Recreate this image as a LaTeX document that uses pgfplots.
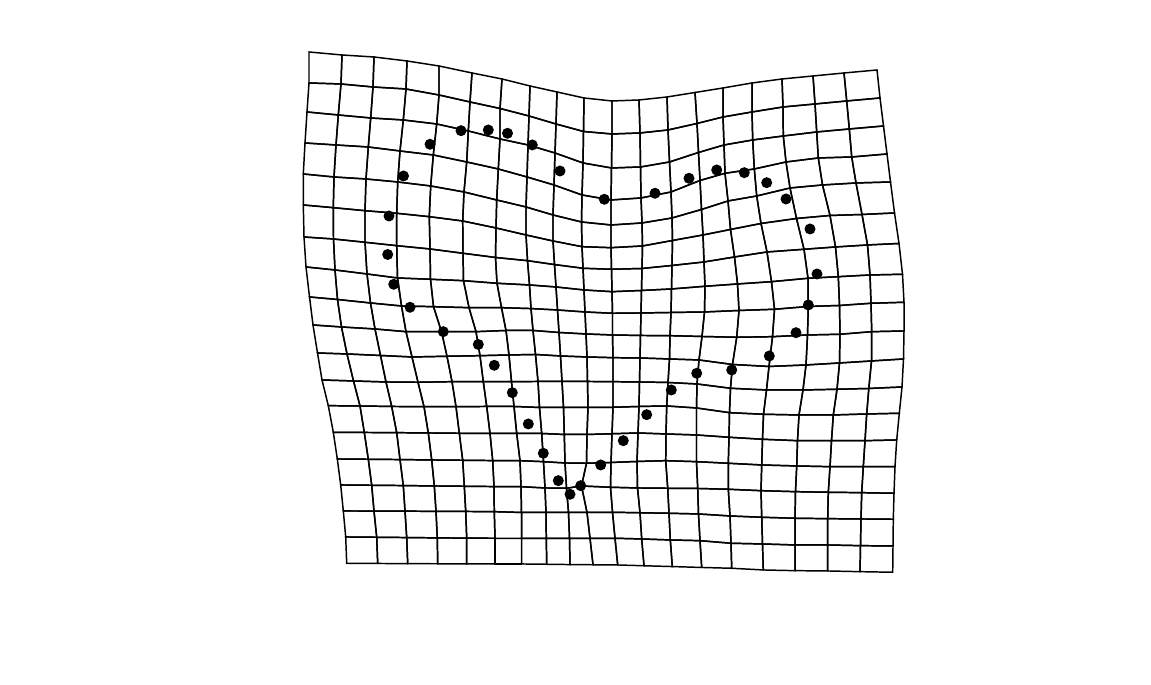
\documentclass[border=0pt]{standalone}
\usepackage{pgfplots}
\pgfplotsset{compat=1.18}
\begin{document}
\begin{tikzpicture}
\begin{axis}[
  view={0}{90},
  width=11.51cm, height=6.85cm, scale only axis,
  xmin=0, xmax=1151, ymin=0, ymax=685, zmin=-1, zmax=1, y dir=reverse,
  axis line style={draw=none}, ticks=none,
  colormap={allblack}{color=(black) color=(black)},
  point meta min=0, point meta max=1,
]
\addplot3[mesh, mesh/rows=19, mesh/cols=20, line width=0.42pt, point meta=0] coordinates {
(309,52,0) (342,55,0) (374,57,0) (407,61,0) (439,66,0) (472,73,0) (502,79,0) (530,86,0) (557,92,0) (584,98,0) (612,101,0) (639,100,0) (667,97,0) (695,92.5,0) (723,88,0) (752,83,0) (782,79,0) (813,76,0) (844,73,0) (877,70,0)
(309,83,0) (341,84,0) (373,87,0) (406,89,0) (439,95,0) (470,102,0) (500,108.5,0) (529,116,0) (556,124,0) (583.5,131.5,0) (612,134,0) (640,133,0) (668,130,0) (697,123.5,0) (723,117,0) (752,112,0) (783,107,0) (815,104,0) (846.7,101,0) (880,98,0)
(307,112,0) (338.3,115,0) (370.7,118,0) (403.3,120,0) (436.7,124,0) (468.3,131,0) (500,139,0) (528,145,0) (555,153,0) (583,163,0) (611.5,168,0) (640.5,167,0) (669.5,162,0) (698.5,152.5,0) (724,145,0) (752.7,140,0) (783.3,136,0) (816.7,132,0) (849.3,129,0) (883.5,126,0)
(305,143,0) (336,145,0) (368.3,147,0) (400,151,0) (433.3,155,0) (466.7,162,0) (498.3,169,0) (527,177,0) (554,185,0) (582,195,0) (611,200,0) (641,198,0) (671,192,0) (700,180.5,0) (725,173.3,0) (754.3,169,0) (786,162,0) (818.3,158,0) (851.7,157,0) (887,154,0)
(303.3,174,0) (334,177,0) (366,179,0) (397.7,182,0) (430.7,186,0) (464,192,0) (496.7,200,0) (526,207,0) (553,215,0) (581.5,222,0) (611,225,0) (642,223,0) (672,218,0) (701.5,209.5,0) (728,201,0) (756.7,196,0) (790,188,0) (822.5,185,0) (856,183,0) (890.5,182,0)
(303.3,205,0) (333.3,207.7,0) (365,210.7,0) (396.7,213.3,0) (429.3,216.7,0) (462.7,221,0) (496,228,0) (526,235,0) (553,241,0) (582,246.7,0) (611,247.7,0) (642.5,246,0) (672.5,240.5,0) (703,235,0) (730.5,229.5,0) (761,223.5,0) (796.5,218.5,0) (830,215.5,0) (862,214.5,0) (894.5,213,0)
(304,237,0) (333.5,239,0) (365,242.3,0) (396.7,245.7,0) (430,249,0) (463,253.3,0) (495.5,257.5,0) (527.5,260.7,0) (554.5,264.6,0) (583,268.3,0) (611.5,269.3,0) (642,268.5,0) (672,265.5,0) (704,262,0) (734.5,257,0) (767,252,0) (804,249.3,0) (835.5,247,0) (867.5,245,0) (899,243.5,0)
(306,267,0) (335,270,0) (367,274,0) (397.5,278,0) (430.5,279.3,0) (463.5,280.7,0) (497,283.3,0) (529.5,285,0) (556,287,0) (584,290,0) (612,291.7,0) (641.5,290.5,0) (671.5,289,0) (705,286.3,0) (737.5,284,0) (771.5,281.7,0) (808,278.3,0) (838.3,276.7,0) (870,275,0) (902.5,274.3,0)
(309.5,297,0) (337.5,299.5,0) (370.5,303,0) (401.5,306,0) (433.5,306.7,0) (469,307.7,0) (501.5,307.7,0) (531,308.6,0) (557.5,310,0) (585,312,0) (612.5,313.3,0) (641,313,0) (671,312.5,0) (704.5,312,0) (739,310.5,0) (774.5,309.3,0) (808.3,306.5,0) (839.5,305.5,0) (871,303.3,0) (904,302.3,0)
(313,325,0) (341.5,327,0) (375,329,0) (406,331.7,0) (441.5,331.7,0) (476,331.7,0) (506,330.5,0) (533,330.5,0) (559,332.5,0) (586,334,0) (612.5,335,0) (640.5,335.5,0) (670,335.7,0) (702,336.5,0) (736.7,337.3,0) (772.5,336.7,0) (807.5,335,0) (840,334.3,0) (871.7,331.7,0) (904,331,0)
(317.5,353,0) (347,354,0) (380.5,355.5,0) (412,357,0) (447,356.3,0) (480,355.7,0) (509,355,0) (535.5,354.5,0) (560.5,356,0) (587,357,0) (613,357.7,0) (640,358,0) (669.5,359,0) (699,360,0) (732.5,364.5,0) (769,366.5,0) (806,365,0) (839.5,363,0) (871.5,361,0) (903.5,359,0)
(322,380,0) (353.5,381,0) (386,382,0) (418,382.3,0) (452,381.7,0) (483.3,381.7,0) (511.5,381.7,0) (538,381.5,0) (562,381.5,0) (587.5,381.5,0) (613,381.7,0) (639.5,382,0) (668,382.5,0) (697,384,0) (730.5,388.3,0) (766.5,390,0) (803,390,0) (837,389.3,0) (868.8,388.5,0) (902,387,0)
(328.3,405.7,0) (360,406,0) (391.7,406.5,0) (424,406.7,0) (456,406.7,0) (486.7,406.5,0) (514,406.5,0) (539.5,407.5,0) (563.5,407.5,0) (588,407.3,0) (613,407.3,0) (639,406.5,0) (666.7,406,0) (696.5,408,0) (729.5,412.7,0) (763.5,414.3,0) (799,415,0) (833.3,415,0) (866.7,414,0) (899.3,413.3,0)
(333.3,432.3,0) (364.3,432.5,0) (396.7,432.7,0) (428.3,433,0) (459.3,433.3,0) (490,433.5,0) (516.7,433.5,0) (541.7,433.5,0) (564.3,434.5,0) (587,434.5,0) (612,433.8,0) (638,433,0) (666,434,0) (696.5,435,0) (729,437.3,0) (762.5,439.3,0) (797.5,440.7,0) (831.5,440.7,0) (865,440.7,0) (896.7,440,0)
(337.3,459,0) (368.3,459.3,0) (400,459.6,0) (431.7,460,0) (462.7,460.3,0) (492.7,460.6,0) (520,460.7,0) (543.5,461.7,0) (565,463,0) (586.5,463.3,0) (611,462.5,0) (637,461.5,0) (665.7,460.7,0) (696.5,461.7,0) (728.3,463.3,0) (761.7,465,0) (796.7,466,0) (830,466.7,0) (863.3,466.7,0) (895,466.7,0)
(340.7,485,0) (371.7,485.3,0) (403.3,485.6,0) (434.3,486,0) (464.3,486.3,0) (494,486.6,0) (521,486.7,0) (545,488,0) (566.5,488.3,0) (581.5,486,0) (610.5,487.3,0) (637.5,488,0) (667.7,488.3,0) (697.7,488.5,0) (728.3,489.3,0) (761,490.7,0) (795.5,491.7,0) (828.3,492.3,0) (861.7,492.7,0) (894,493.3,0)
(343.3,511,0) (374,511.1,0) (405,511.2,0) (436,511.4,0) (465.7,511.5,0) (494.3,511.7,0) (521.5,512.5,0) (546,512.5,0) (568.5,512.5,0) (587,512.5,0) (612.5,512.3,0) (640,512.8,0) (669,513.3,0) (698.5,514,0) (730,516,0) (761.7,517.3,0) (795,518.3,0) (827.7,518.7,0) (861,519,0) (893.3,519.3,0)
(345.7,537,0) (376.7,537.3,0) (406.7,537.6,0) (437.3,537.9,0) (466.7,538.2,0) (495,538.3,0) (521.7,538.3,0) (546.3,538.3,0) (569.5,538.3,0) (590,538.3,0) (615,538.3,0) (641.7,539,0) (670.3,540,0) (700,540.7,0) (731,543.3,0) (762.5,544,0) (795,545,0) (827.7,545,0) (860.5,545.7,0) (893,546,0)
(346.7,563.3,0) (377.7,563.5,0) (407.7,563.7,0) (437.7,563.8,0) (466.7,564,0) (495,564,0) (521.7,564,0) (546.7,564.3,0) (570,564.6,0) (593,564.8,0) (617.7,565,0) (644,565.8,0) (672.3,566.6,0) (701.7,567.5,0) (731.7,568.3,0) (763.3,570,0) (795,570.7,0) (827.7,571,0) (860,571.7,0) (892.7,572.3,0)
};
\addplot3[only marks, mark=*, mark size=1.35pt, black] coordinates {
(430,144.3,0) (461,130.7,0) (488.3,130,0) (507.5,133.3,0) (532.3,145,0) (560,171,0) (604.3,199.3,0)
(655,193.3,0) (689,178.3,0) (716.7,170,0) (744.3,172.7,0) (766.7,182.7,0) (786,199,0) (810,229,0)
(817,274,0) (808.3,305,0) (796,332.7,0) (769.3,356,0) (731.7,370,0) (696.7,373.3,0) (671.3,390,0)
(646.7,414.7,0) (623.3,440.7,0) (600.7,465,0) (580.7,485.7,0) (570,494.3,0) (558.3,480.7,0) (543.3,453.3,0)
(528.3,424,0) (512.3,392.7,0) (494.3,365.3,0) (478.3,344.5,0) (443.3,331.7,0) (410,307.3,0) (393.7,284.3,0)
(387.7,254.5,0) (389,216,0) (403.5,176,0)
};
\end{axis}
\end{tikzpicture}
\end{document}
